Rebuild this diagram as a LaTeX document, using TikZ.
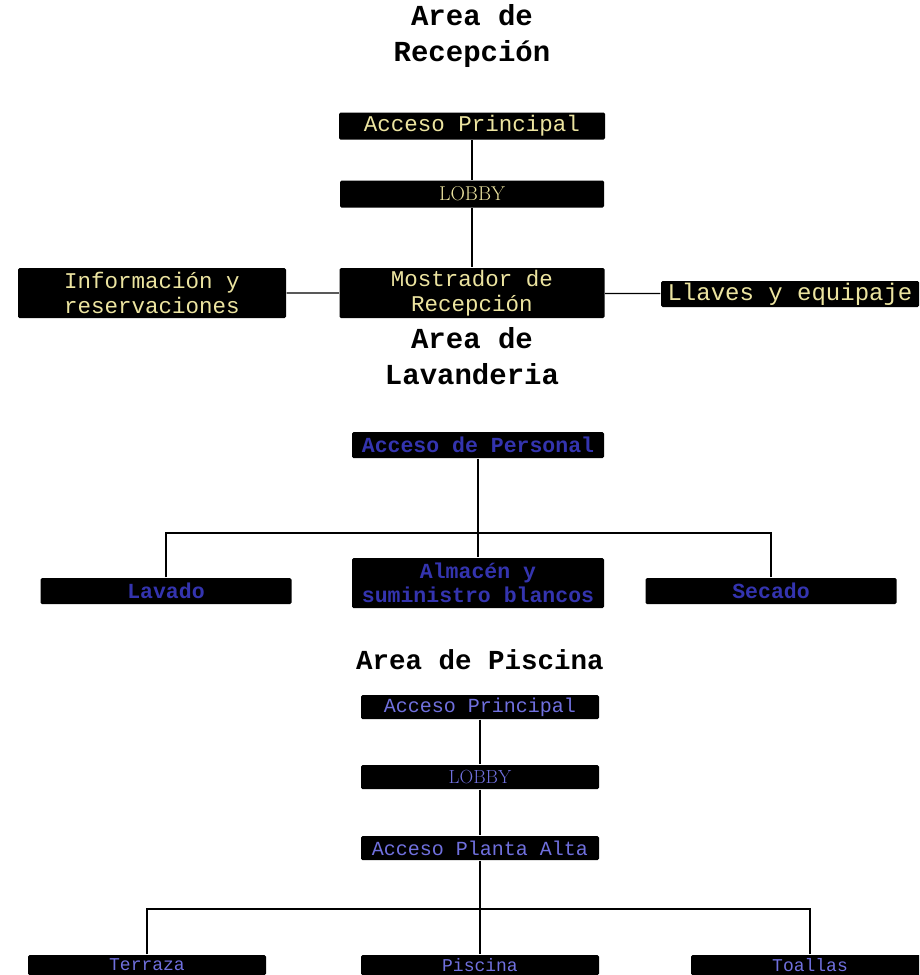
\documentclass[tikz,border=0pt]{standalone}
\usepackage{fontspec}
\setmonofont{Liberation Mono}
\usepackage{tikz}
\definecolor{amarillo}{RGB}{236,228,160}
\definecolor{azuloscuro}{RGB}{52,52,175}
\definecolor{azulclaro}{RGB}{112,112,222}

\begin{document}
\begin{tikzpicture}[x=1pt,y=-1pt,line width=1.2pt,
                caja/.style={fill=black,rounded corners=1.5pt,inner sep=0pt,align=center,font=\fontsize{22.5}{25}\ttfamily},
                titulo/.style={align=center,font=\fontsize{29}{36}\ttfamily\bfseries}]
                \clip (0,0) rectangle (919,975);

                % 受付
                \node[titulo] (tr) at (472,36) {Area de\\Recepción};
                \node[caja,text=amarillo,minimum width=266pt,minimum height=27pt] (ap1) at (472,126) {Acceso Principal};
                \node[caja,text=amarillo,minimum width=264pt,minimum height=27pt,font=\fontsize{20}{22}\rmfamily] (lb1) at (472,194) {LOBBY};
                \node[caja,text=amarillo,minimum width=265pt,minimum height=50pt] (mr) at (472,293) {Mostrador de\\Recepción};
                \node[caja,text=amarillo,minimum width=268pt,minimum height=50pt] (ir) at (152,293) {Información y\\reservaciones};
                \node[caja,text=amarillo,minimum width=258pt,minimum height=26pt,font=\fontsize{24}{26}\ttfamily] (ll) at (790,294) {Llaves y equipaje};
                \draw (ap1)--(lb1)--(mr);
                \draw (ir)--(mr)--(ll);

                % ランドリー
                \node[titulo] (tl) at (472,356) {Area de\\Lavanderia};
                \node[caja,text=azuloscuro,minimum width=252pt,minimum height=26pt,font=\fontsize{21.5}{24}\ttfamily\bfseries] (pe) at (478,445) {Acceso de Personal};
                \node[caja,text=azuloscuro,minimum width=251pt,minimum height=26pt,font=\fontsize{21.5}{24}\ttfamily\bfseries] (lv) at (166,591) {Lavado};
                \node[caja,text=azuloscuro,minimum width=252pt,minimum height=50pt,font=\fontsize{21.5}{24}\ttfamily\bfseries] (al) at (478,583) {Almacén y\\suministro blancos};
                \node[caja,text=azuloscuro,minimum width=251pt,minimum height=26pt,font=\fontsize{21.5}{24}\ttfamily\bfseries] (sc) at (771,591) {Secado};
                \coordinate (b1) at (478,533);
                \draw (pe)--(al);
                \draw (lv.north)|-(b1);
                \draw (sc.north)|-(b1);

                % プール
                \node[titulo,font=\fontsize{27.5}{32}\ttfamily\bfseries] (tp) at (480,660) {Area de Piscina};
                \node[caja,text=azulclaro,minimum width=238pt,minimum height=24pt,font=\fontsize{20}{22}\ttfamily] (ap2) at (480,707) {Acceso Principal};
                \node[caja,text=azulclaro,minimum width=238pt,minimum height=24pt,font=\fontsize{19}{22}\rmfamily] (lb2) at (480,777) {LOBBY};
                \node[caja,text=azulclaro,minimum width=238pt,minimum height=24pt,font=\fontsize{20}{22}\ttfamily] (pa) at (480,848) {Acceso Planta Alta};
                \node[caja,text=azulclaro,minimum width=238pt,minimum height=20pt,font=\fontsize{18}{20}\ttfamily] (te) at (147,965) {Terraza};
                \node[caja,text=azulclaro,minimum width=238pt,minimum height=20pt,font=\fontsize{18}{20}\ttfamily] (pi) at (480,965) {Piscina};
                \node[caja,text=azulclaro,minimum width=238pt,minimum height=20pt,font=\fontsize{18}{20}\ttfamily] (to) at (810,965) {Toallas};
                \coordinate (b2) at (480,909);
                \draw (ap2)--(lb2)--(pa)--(pi);
                \draw (te.north)|-(b2);
                \draw (to.north)|-(b2);

            \end{tikzpicture}
\end{document}
